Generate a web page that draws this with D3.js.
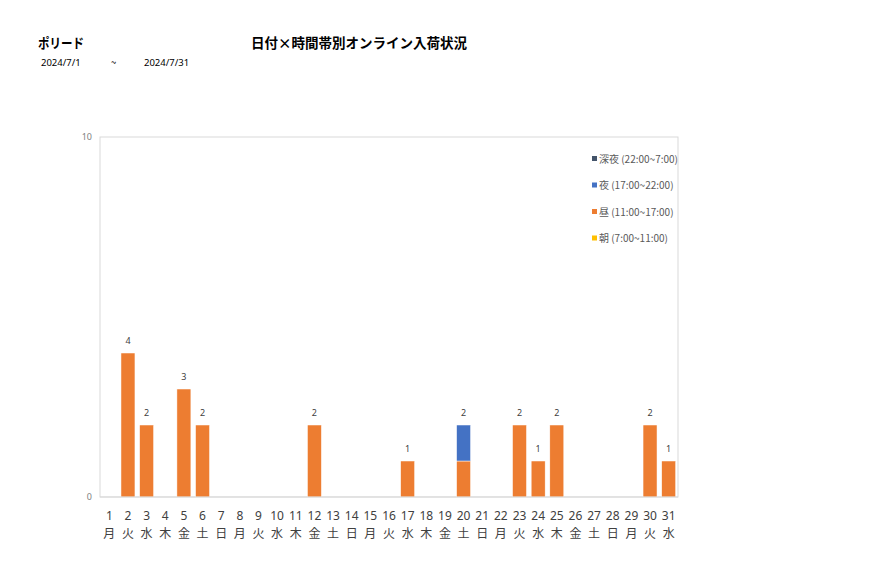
<!DOCTYPE html>
<html><head><meta charset="utf-8">
<script src="https://cdn.jsdelivr.net/npm/d3@7"></script>
<style>body{margin:0;background:#fff;font-family:"Noto Sans CJK JP","Noto Sans",sans-serif;}</style>
</head><body><svg id="c" width="877" height="578"></svg>
<script>
const days = ["1","2","3","4","5","6","7","8","9","10","11","12","13","14","15","16","17","18","19","20","21","22","23","24","25","26","27","28","29","30","31"];
const weekdays = ["月","火","水","木","金","土","日","月","火","水","木","金","土","日","月","火","水","木","金","土","日","月","火","水","木","金","土","日","月","火","水"];
const asa =    [0,0,0,0,0,0,0,0,0,0,0,0,0,0,0,0,0,0,0,0,0,0,0,0,0,0,0,0,0,0,0];
const hiru =   [0,4,2,0,3,2,0,0,0,0,0,2,0,0,0,0,1,0,0,1,0,0,2,1,2,0,0,0,0,2,1];
const yoru =   [0,0,0,0,0,0,0,0,0,0,0,0,0,0,0,0,0,0,0,1,0,0,0,0,0,0,0,0,0,0,0];
const shinya = [0,0,0,0,0,0,0,0,0,0,0,0,0,0,0,0,0,0,0,0,0,0,0,0,0,0,0,0,0,0,0];
const yTicks = [0,10];
const seriesNames = ["朝 (7:00~11:00)","昼 (11:00~17:00)","夜 (17:00~22:00)","深夜 (22:00~7:00)"];
const seriesColors = ["#FFC000","#ED7D31","#4472C4","#44546A"];

const svg = d3.select("#c");
const L=100,R=678,T=137,B=497;
const x = d3.scaleBand().domain(days).range([L,R]).paddingInner(0.25).paddingOuter(0.125);
const y = d3.scaleLinear().domain([0,10]).range([B,T]);

const table = days.map((d,i)=>({day:d,asa:asa[i],hiru:hiru[i],yoru:yoru[i],shinya:shinya[i]}));
const keys=["asa","hiru","yoru","shinya"];
const stacked = d3.stack().keys(keys)(table);

svg.append("rect").attr("x",L).attr("y",T).attr("width",R-L).attr("height",B-T)
  .attr("fill","none").attr("stroke","#d9d9d9").attr("stroke-width",1);

svg.selectAll(".yt").data(yTicks).enter().append("text")
  .attr("x",L-8).attr("y",d=>y(d)+3).attr("text-anchor","end")
  .attr("font-size",9).attr("fill","#7f7f7f").attr("font-family","Noto Sans, sans-serif").text(d=>d);

stacked.forEach((s,k)=>{
  svg.append("g").selectAll("rect").data(s.filter(d=>d[1]-d[0]>0)).enter().append("rect")
    .attr("x",d=>x(d.data.day)).attr("width",x.bandwidth())
    .attr("y",d=>y(d[1])).attr("height",d=>y(d[0])-y(d[1]))
    .attr("fill",seriesColors[k]).attr("stroke","#fff").attr("stroke-width",0.5);
});

svg.append("line").attr("x1",L).attr("x2",R).attr("y1",B).attr("y2",B).attr("stroke","#d9d9d9");

svg.selectAll(".tot").data(table.filter(d=>d.asa+d.hiru+d.yoru+d.shinya>0)).enter().append("text")
  .attr("x",d=>x(d.day)+x.bandwidth()/2).attr("y",d=>y(d.asa+d.hiru+d.yoru+d.shinya)-9)
  .attr("text-anchor","middle").attr("font-size",9).attr("fill","#404040")
  .attr("font-family","Noto Sans, sans-serif")
  .text(d=>d.asa+d.hiru+d.yoru+d.shinya);

svg.selectAll(".xd").data(days).enter().append("text")
  .attr("x",d=>x(d)+x.bandwidth()/2).attr("y",520).attr("text-anchor","middle")
  .attr("font-size",12).attr("fill","#404040").attr("font-family","Noto Sans, sans-serif").text(d=>d);
svg.selectAll(".xw").data(days).enter().append("text")
  .attr("x",d=>x(d)+x.bandwidth()/2).attr("y",538).attr("text-anchor","middle")
  .attr("font-size",12).attr("fill","#404040").text((d,i)=>weekdays[i]);

const legOrder=[3,2,1,0];
legOrder.forEach((k,j)=>{
  const ly=159+j*26.5;
  svg.append("rect").attr("x",592).attr("y",ly-3).attr("width",5).attr("height",5).attr("fill",seriesColors[k]);
  svg.append("text").attr("x",599).attr("y",ly+3.5).attr("font-size",10).attr("fill","#595959").text(seriesNames[k]);
});

svg.append("text").attr("x",38).attr("y",48).attr("font-size",13.5).attr("font-weight","bold").attr("fill","#000")
  .attr("textLength",46).attr("lengthAdjust","spacingAndGlyphs").text("ポリード");
svg.append("text").attr("x",251).attr("y",48).attr("font-size",13.5).attr("font-weight","bold").attr("fill","#000").text("日付×時間帯別オンライン入荷状況");
svg.append("text").attr("x",41).attr("y",66).attr("font-size",9.5).attr("fill","#000").attr("font-family","Noto Sans, sans-serif").text("2024/7/1");
svg.append("text").attr("x",111).attr("y",66).attr("font-size",9.5).attr("fill","#000").text("~");
svg.append("text").attr("x",144).attr("y",66).attr("font-size",9.5).attr("fill","#000").attr("font-family","Noto Sans, sans-serif").text("2024/7/31");
</script></body></html>
